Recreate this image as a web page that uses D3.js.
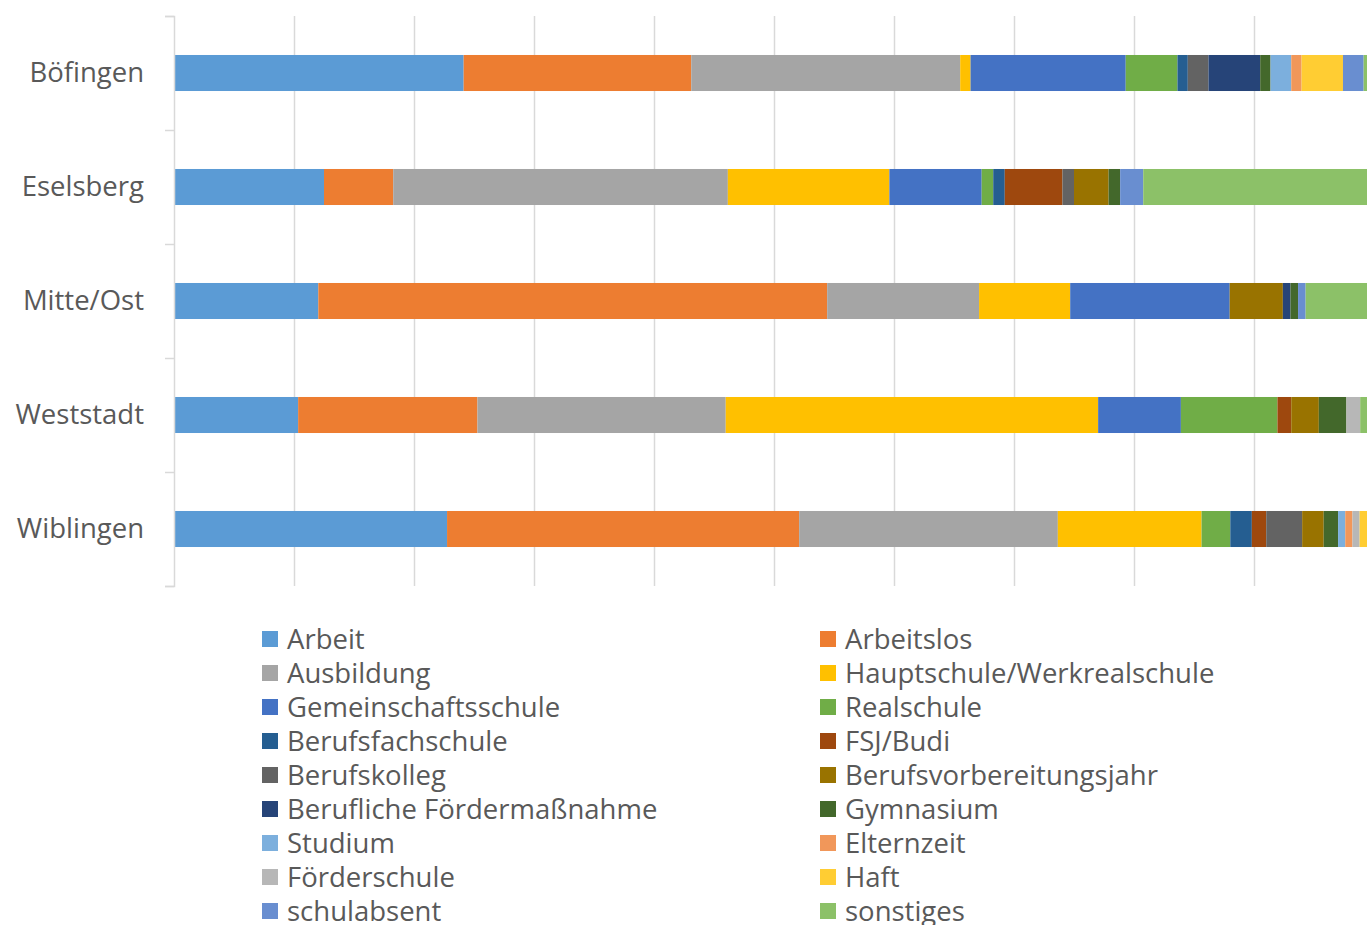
<!DOCTYPE html>
<html>
<head>
<meta charset="utf-8">
<script src="https://cdn.jsdelivr.net/npm/d3@7"></script>
<style>
  body { margin: 0; background: #fff; }
  svg { display: block; }
  text { font-family: "Open Sans", Lato, sans-serif; fill: #595959; }
</style>
</head>
<body>
<div id="container"></div>
<script>
// districts (top to bottom)
let districts = ["Böfingen", "Eselsberg", "Mitte/Ost", "Weststadt", "Wiblingen"];

// series names, in stack order
let seriesNames = ["Arbeit", "Arbeitslos", "Ausbildung", "Hauptschule/Werkrealschule",
  "Gemeinschaftsschule", "Realschule", "Berufsfachschule", "FSJ/Budi", "Berufskolleg",
  "Berufsvorbereitungsjahr", "Berufliche Fördermaßnahme", "Gymnasium", "Studium",
  "Elternzeit", "Förderschule", "Haft", "schulabsent", "sonstiges"];

let seriesColors = ["#5B9BD5", "#ED7D31", "#A5A5A5", "#FFC000", "#4472C4", "#70AD47",
  "#255E91", "#9E480E", "#636363", "#997300", "#264478", "#43682B", "#7CAFDD",
  "#F1975A", "#B7B7B7", "#FFCD33", "#698ED0", "#8CC168"];

// counts per district, one number per series
let boefingen = [28, 22, 26, 1, 15, 5, 1, 0, 2, 0, 5, 1, 2, 1, 0, 4, 2, 1];
let eselsberg = [13, 6, 29, 14, 8, 1, 1, 5, 1, 3, 0, 1, 0, 0, 0, 0, 2, 20];
let mitteOst  = [19, 67, 20, 12, 21, 0, 0, 0, 0, 7, 1, 1, 0, 0, 0, 0, 1, 9];
let weststadt = [9, 13, 18, 27, 6, 7, 0, 1, 0, 2, 0, 2, 0, 0, 1, 0, 0, 1];
let wiblingen = [38, 49, 36, 20, 0, 4, 3, 2, 5, 3, 0, 2, 1, 1, 1, 2, 0, 0];

let counts = [boefingen, eselsberg, mitteOst, weststadt, wiblingen];

let gridTicks = [0.1, 0.2, 0.3, 0.4, 0.5, 0.6, 0.7, 0.8, 0.9];

let w = 1367;
let h = 925;
let plotLeft = 174, plotRight = 1374, plotTop = 16, plotBottom = 586;
let fontSize = 27.5;

// table for d3.stack
let table = districts.map((name, i) => {
  let row = { district: name };
  seriesNames.forEach((s, j) => row[s] = counts[i][j]);
  return row;
});

let stacked = d3.stack()
  .keys(seriesNames)
  .offset(d3.stackOffsetExpand)(table);

let xScale = d3.scaleLinear().domain([0, 1]).range([plotLeft, plotRight]);
let yScale = d3.scaleBand().domain(districts).range([plotTop, plotBottom]).paddingInner(0.684).paddingOuter(0.342);
let colorScale = d3.scaleOrdinal().domain(seriesNames).range(seriesColors);

let viz = d3.select('#container')
  .append('svg')
  .attr('width', w)
  .attr('height', h);

// GRID
let gridGroup = viz.append('g')
  .attr('transform', `translate(0,${plotBottom})`)
  .call(d3.axisBottom(xScale).tickValues(gridTicks).tickSize(-(plotBottom - plotTop)).tickFormat(''));
gridGroup.select('.domain').remove();
gridGroup.selectAll('line').attr('stroke', '#d9d9d9').attr('stroke-width', 1.5);

// BARS
let layers = viz.append('g').selectAll('g')
  .data(stacked)
  .join('g')
  .attr('fill', d => colorScale(d.key));

layers.selectAll('rect')
  .data(d => d)
  .join('rect')
  .attr('x', d => xScale(d[0]))
  .attr('width', d => xScale(d[1]) - xScale(d[0]))
  .attr('y', d => yScale(d.data.district))
  .attr('height', yScale.bandwidth());

// Y AXIS (labels at the centres, ticks on the band edges)
let yEdges = d3.scaleLinear().domain([0, districts.length]).range([plotTop, plotBottom]);
let edgeAxis = viz.append('g')
  .attr('transform', `translate(${plotLeft},0)`)
  .call(d3.axisLeft(yEdges).ticks(districts.length).tickSize(9).tickFormat(''));
edgeAxis.select('.domain').attr('stroke', '#d9d9d9').attr('stroke-width', 1.5);
edgeAxis.selectAll('line').attr('stroke', '#d9d9d9').attr('stroke-width', 1.5);

let labelAxis = viz.append('g')
  .attr('transform', `translate(${plotLeft},0)`)
  .call(d3.axisLeft(yScale).tickSize(0).tickPadding(30));
labelAxis.select('.domain').remove();
labelAxis.selectAll('text')
  .attr('font-size', fontSize)
  .attr('fill', '#595959')
  .style('font-family', '"Open Sans", Lato, sans-serif');

// LEGEND
let legendX = [262, 820];
let legendY0 = 639, legendStep = 34;
let legend = viz.append('g').selectAll('g')
  .data(seriesNames)
  .join('g')
  .attr('transform', (d, i) => `translate(${legendX[i % 2]},${legendY0 + Math.floor(i / 2) * legendStep})`);

legend.append('rect')
  .attr('x', 0)
  .attr('y', -8)
  .attr('width', 16)
  .attr('height', 16)
  .attr('fill', d => colorScale(d));

legend.append('text')
  .attr('x', 25)
  .attr('y', 0)
  .attr('dy', '0.35em')
  .attr('font-size', fontSize)
  .text(d => d);
</script>
</body>
</html>
